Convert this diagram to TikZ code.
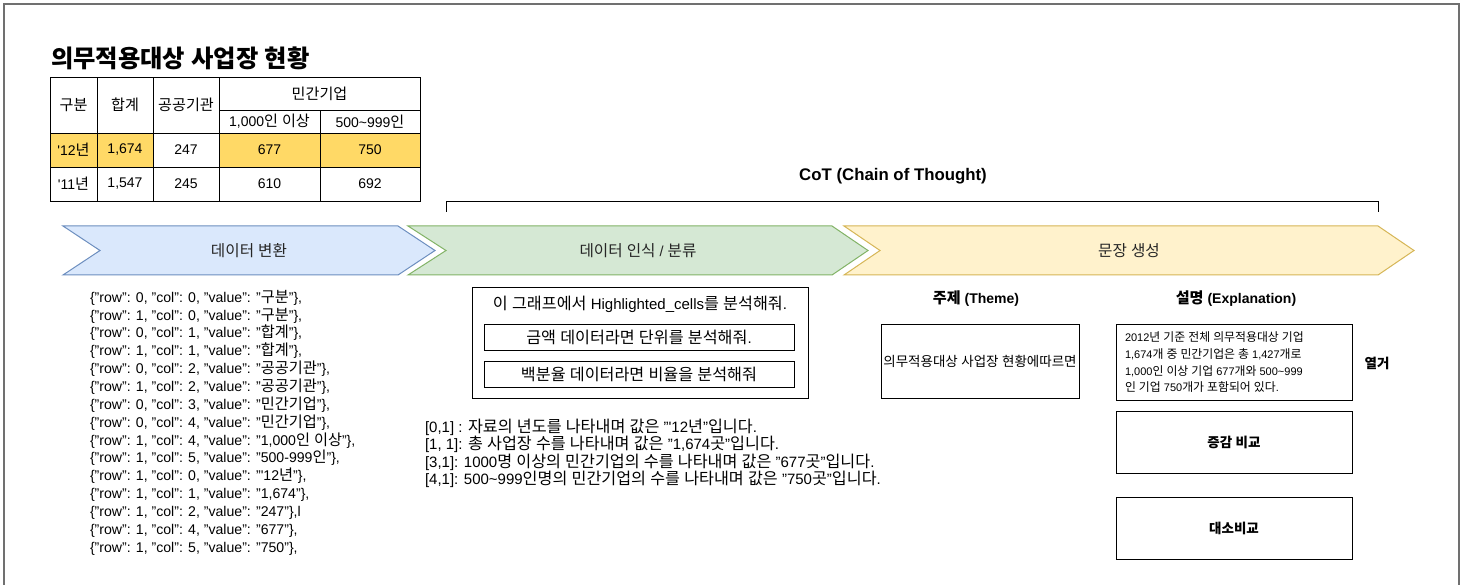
\documentclass[tikz,border=0pt]{standalone}
\usepackage{fontspec}
\usepackage{graphicx}
\setmainfont{Liberation Sans}
\newfontfamily\krf{Noto Sans CJK KR}[Scale=1.08]
\newXeTeXintercharclass\KRclass
\makeatletter
\count@="AC00
\loop
  \XeTeXcharclass\count@=\KRclass
  \ifnum\count@<"D7A3
  \advance\count@\@ne
\repeat
\makeatother
\XeTeXinterchartoks 0 \KRclass = {\krf}
\XeTeXinterchartoks 4095 \KRclass = {\krf}
\XeTeXinterchartoks \KRclass 0 = {\rmfamily}
\XeTeXinterchartoks \KRclass 4095 = {\rmfamily}
\XeTeXinterchartokenstate=1
\newcommand\myfs[2]{\fontsize{#1}{#2}\selectfont}
\newcommand\sq{\textquotesingle}
\definecolor{blueF}{HTML}{DAE8FC}
\definecolor{blueD}{HTML}{6C8EBF}
\definecolor{greenF}{HTML}{D5E8D4}
\definecolor{greenD}{HTML}{82B366}
\definecolor{yelF}{HTML}{FFF2CC}
\definecolor{yelD}{HTML}{D6B656}
\definecolor{hl}{HTML}{FFD966}
\definecolor{frameC}{HTML}{707070}
\newcommand\tcell[7]{\node[cellbox, fill=#6, minimum width={#4-#2}, minimum height={#5-#3}] (#1) at ({(#2+#4)/2},{(#3+#5)/2}) {#7};}
\begin{document}
\begin{tikzpicture}[x=1pt,y=-1pt,
  every node/.style={inner sep=0pt, outer sep=0pt},
  cellbox/.style={draw=black, line width=0.8pt, font=\myfs{14}{16}},
  box/.style={draw=black, line width=0.9pt},
  chev/.style={line width=1pt},
  steplabel/.style={font=\myfs{14.5}{17}, text=black!85},
  body/.style={font=\myfs{14.1}{17.86}, align=left},
  small/.style={font=\myfs{11}{16.7}, align=left},
  hdr/.style={font=\bfseries\myfs{14}{17}},
  prompttext/.style={font=\myfs{15}{17}}]
\useasboundingbox (0,0) rectangle (1467,585);
\fill[white] (0,0) rectangle (1467,585);
% outer frame
\coordinate (fbl) at (4,600);
\coordinate (ftl) at (4,4);
\coordinate (ftr) at (1459,4);
\coordinate (fbr) at (1459,600);
\draw[frameC, line width=1.3pt] (fbl) -- (ftl) -- (ftr) -- (fbr);
% title
\node[anchor=west, font=\bfseries\myfs{22.5}{26}] (title) at (51,58) {의무적용대상 사업장 현황};
% table
\tcell{c00}{50}{77}{97}{133}{white}{구분}
\tcell{c01}{97}{77}{153}{133}{white}{합계}
\tcell{c02}{153}{77}{219}{133}{white}{공공기관}
\tcell{c03}{219}{77}{420}{110}{white}{민간기업}
\tcell{c13}{219}{110}{320}{133}{white}{1,000인 이상}
\tcell{c14}{320}{110}{420}{133}{white}{500\textasciitilde 999인}
\tcell{c20}{50}{133}{97}{167}{hl}{\sq 12년}
\tcell{c21}{97}{133}{153}{167}{hl}{1,674}
\tcell{c22}{153}{133}{219}{167}{white}{247}
\tcell{c23}{219}{133}{320}{167}{hl}{677}
\tcell{c24}{320}{133}{420}{167}{hl}{750}
\tcell{c30}{50}{167}{97}{201}{white}{\sq 11년}
\tcell{c31}{97}{167}{153}{201}{white}{1,547}
\tcell{c32}{153}{167}{219}{201}{white}{245}
\tcell{c33}{219}{167}{320}{201}{white}{610}
\tcell{c34}{320}{167}{420}{201}{white}{692}
% CoT bracket
\node[font=\bfseries\myfs{16.8}{19}] (cot) at (893,176) {CoT (Chain of Thought)};
\coordinate (bl) at (446,212);
\coordinate (blt) at (446,201);
\coordinate (brt) at (1378,201);
\coordinate (br) at (1378,212);
\draw[black, line width=0.9pt] (bl) -- (blt) -- (brt) -- (br);
% chevrons
\draw[chev, fill=blueF, draw=blueD] (63,226) -- (398,226) -- (435,250.5) -- (398,275) -- (63,275) -- (100,250.5) -- cycle;
\node[steplabel] (s1) at (249,250.5) {데이터 변환};
\draw[chev, fill=greenF, draw=greenD] (408,226) -- (832,226) -- (868,250.5) -- (832,275) -- (408,275) -- (446,250.5) -- cycle;
\node[steplabel] (s2) at (638,250.5) {데이터 인식 / 분류};
\draw[chev, fill=yelF, draw=yelD] (844,226) -- (1378,226) -- (1414,250.5) -- (1378,275) -- (844,275) -- (880,250.5) -- cycle;
\node[steplabel] (s3) at (1129,250.5) {문장 생성};
% JSON list
\node[body, anchor=north west] (json) at (90,290) {%
\{"row": 0, "col": 0, "value": "구분"\},\\
\{"row": 1, "col": 0, "value": "구분"\},\\
\{"row": 0, "col": 1, "value": "합계"\},\\
\{"row": 1, "col": 1, "value": "합계"\},\\
\{"row": 0, "col": 2, "value": "공공기관"\},\\
\{"row": 1, "col": 2, "value": "공공기관"\},\\
\{"row": 0, "col": 3, "value": "민간기업"\},\\
\{"row": 0, "col": 4, "value": "민간기업"\},\\
\{"row": 1, "col": 4, "value": "1,000인 이상"\},\\
\{"row": 1, "col": 5, "value": "500-999인"\},\\
\{"row": 1, "col": 0, "value": "\sq 12년"\},\\
\{"row": 1, "col": 1, "value": "1,674"\},\\
\{"row": 1, "col": 2, "value": "247"\},l\\
\{"row": 1, "col": 4, "value": "677"\},\\
\{"row": 1, "col": 5, "value": "750"\},};
% prompt box
\node[box, minimum width=336, minimum height=111] (prompt) at (640,343) {};
\node[prompttext] (p1) at (640,304) {이 그래프에서 Highlighted\_cells를 분석해줘.};
\node[box, prompttext, minimum width=310, minimum height=26] (p2) at (639,337) {금액 데이터라면 단위를 분석해줘.};
\node[box, prompttext, minimum width=310, minimum height=26] (p3) at (639,374) {백분율 데이터라면 비율을 분석해줘};
% recognition lines
\node[font=\myfs{15}{16.1}, align=left, anchor=north west] (rec) at (425,419) {%
{[}0,1{]} : 자료의 년도를 나타내며 값은 "\sq 12년"입니다.\\
{[}1, 1{]}: 총 사업장 수를 나타내며 값은 "1,674곳"입니다.\\
{[}3,1{]}: 1000명 이상의 민간기업의 수를 나타내며 값은 "677곳"입니다.\\
{[}4,1{]}: 500\textasciitilde 999인명의 민간기업의 수를 나타내며 값은 "750곳"입니다.};
% sentence generation
\node[hdr] (theme) at (976,299) {주제 (Theme)};
\node[hdr] (expl) at (1236,299) {설명 (Explanation)};
\node[box, minimum width=198, minimum height=74, font=\myfs{12.5}{15}] (tbox) at (980,361) {의무적용대상 사업장 현황에따르면};
\node[box, minimum width=236, minimum height=76] (ebox) at (1234,362) {};
\node[small, anchor=north west] (etext) at (1125,332) {%
2012년 기준 전체 의무적용대상 기업\\
1,674개 중 민간기업은 총 1,427개로\\
1,000인 이상 기업 677개와 500\textasciitilde 999\\
인 기업 750개가 포함되어 있다.};
\node[font=\bfseries\myfs{12.5}{15}] (enum) at (1377,363) {열거};
\node[box, minimum width=236, minimum height=62, font=\bfseries\myfs{12.5}{15}] (inc) at (1234,442) {증감 비교};
\node[box, minimum width=236, minimum height=62, font=\bfseries\myfs{12.5}{15}] (cmp) at (1234,528) {대소비교};
\end{tikzpicture}
\end{document}
